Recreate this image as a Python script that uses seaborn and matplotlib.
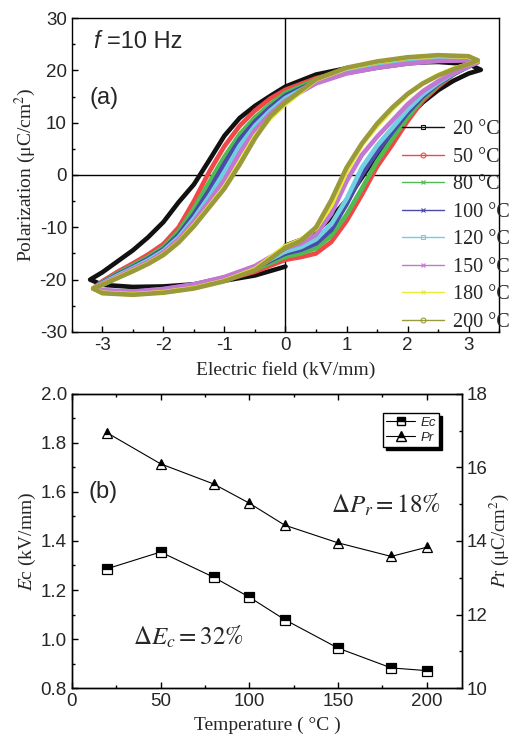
import matplotlib
matplotlib.use("Agg")
import matplotlib.pyplot as plt
from matplotlib.lines import Line2D
from matplotlib.ticker import MultipleLocator, FormatStrFormatter
import seaborn as sns
import pandas as pd

# ---- panel (a): P-E loops ----
temps_loop = [20, 50, 80, 100, 120, 150, 180, 200]
loop_colors = ["#111111", "#f04848", "#50bb50", "#4a4aa8",
               "#70d0e2", "#c278d0", "#eaea38", "#9a9a3a"]
loop_markers = ["s", "o", "x", "x", "s", "x", "x", "o"]
e_tip = [3.2, 3.15, 3.15, 3.15, 3.15, 3.15, 3.15, 3.15]

# descending branch (between the tips), ascending branch (0.0 twice: end / start)
e_dn_mid = [3.0, 2.5, 2.0, 1.5, 1.0, 0.5, 0.0, -0.25, -0.5, -0.75, -1.0,
            -1.25, -1.5, -1.75, -2.0, -2.25, -2.5, -2.75, -3.0]
e_up_mid = [-3.0, -2.5, -2.0, -1.5, -1.0, -0.5, 0.0, 0.0, 0.25, 0.5, 0.75,
            1.0, 1.25, 1.5, 1.75, 2.0, 2.25, 2.5, 2.75, 3.0]

p_dn_20 = [20.1, 21.2, 21.6, 21.5, 21.0, 20.4, 19.2, 16.9, 15.1, 13.2, 10.9, 7.5, 2.8, -1.8, -5.2, -9.0, -11.9, -14.4, -16.5, -18.6, -20.0]
p_dn_50 = [21.9, 22.5, 22.3, 21.7, 20.9, 19.9, 18.5, 16.3, 14.6, 12.3, 9.4, 5.5, 0.6, -5.0, -10.0, -13.2, -15.2, -16.9, -18.5, -20.3, -21.7]
p_dn_80 = [21.8, 22.3, 22.1, 21.6, 20.8, 19.8, 18.2, 15.7, 13.5, 11.0, 7.8, 3.5, -1.4, -6.4, -10.8, -13.8, -15.7, -17.3, -18.8, -20.5, -21.7]
p_dn_100 = [21.6, 22.0, 21.8, 21.3, 20.5, 19.5, 17.9, 15.2, 12.9, 10.2, 6.8, 2.2, -2.9, -7.5, -11.4, -14.2, -16.0, -17.6, -19.0, -20.6, -21.7]
p_dn_120 = [21.6, 22.1, 22.0, 21.5, 20.7, 19.6, 17.8, 14.7, 12.3, 9.4, 5.6, 0.6, -4.1, -8.3, -11.9, -14.5, -16.3, -17.8, -19.2, -20.7, -21.7]
p_dn_150 = [21.5, 21.9, 21.8, 21.3, 20.5, 19.4, 17.5, 14.2, 11.7, 8.6, 4.2, -0.9, -5.0, -8.9, -12.3, -14.8, -16.6, -18.0, -19.4, -20.8, -21.7]
p_dn_180 = [21.8, 22.6, 22.8, 22.4, 21.6, 20.4, 18.2, 13.6, 10.9, 7.4, 2.4, -2.3, -6.0, -9.6, -12.8, -15.2, -16.9, -18.3, -19.6, -21.0, -21.7]
p_dn_200 = [21.9, 22.7, 22.9, 22.5, 21.7, 20.5, 18.3, 13.9, 11.2, 7.0, 2.0, -2.6, -6.2, -9.8, -12.9, -15.3, -17.0, -18.4, -19.7, -21.0, -21.7]

p_up_20 = [-20.0, -21.0, -21.4, -21.3, -20.9, -20.2, -19.2, -17.5, -13.5, -12.4, -10.8, -8.2, -4.8, -0.5, 3.8, 7.6, 11.0, 13.9, 16.2, 18.0, 19.4, 20.1]
p_up_50 = [-21.7, -22.4, -22.6, -22.2, -21.4, -20.1, -18.5, -16.2, -16.2, -15.7, -15.0, -12.8, -8.8, -3.8, 1.6, 5.8, 10.3, 14.2, 16.9, 19.2, 20.9, 21.9]
p_up_80 = [-21.7, -22.3, -22.5, -22.0, -21.2, -19.9, -18.1, -15.6, -15.6, -15.0, -14.0, -11.6, -7.6, -2.6, 2.6, 6.9, 11.0, 14.6, 17.2, 19.3, 20.9, 21.8]
p_up_100 = [-21.7, -22.1, -22.3, -21.8, -20.9, -19.6, -17.8, -15.0, -15.0, -14.3, -13.1, -10.5, -5.6, 0.0, 4.4, 8.2, 11.9, 15.0, 17.4, 19.3, 20.7, 21.6]
p_up_120 = [-21.7, -22.2, -22.4, -21.9, -21.0, -19.7, -17.7, -14.6, -14.6, -13.8, -12.3, -9.4, -4.6, 1.4, 5.6, 9.0, 12.5, 15.4, 17.6, 19.4, 20.8, 21.6]
p_up_150 = [-21.7, -22.1, -22.3, -21.8, -20.9, -19.5, -17.4, -14.0, -14.0, -13.1, -11.4, -7.4, -1.2, 3.8, 7.3, 10.4, 13.5, 16.0, 17.9, 19.5, 20.8, 21.5]
p_up_180 = [-21.7, -22.5, -22.8, -22.4, -21.6, -20.2, -18.0, -13.6, -13.6, -12.4, -10.2, -5.8, 0.6, 5.8, 9.4, 12.6, 15.4, 17.5, 19.1, 20.3, 21.2, 21.8]
p_up_200 = [-21.7, -22.6, -22.9, -22.5, -21.7, -20.3, -18.2, -13.9, -13.9, -12.6, -10.0, -4.8, 1.4, 6.0, 9.8, 12.9, 15.5, 17.5, 19.0, 20.2, 21.2, 21.9]

p_dn_all = [p_dn_20, p_dn_50, p_dn_80, p_dn_100, p_dn_120, p_dn_150, p_dn_180, p_dn_200]
p_up_all = [p_up_20, p_up_50, p_up_80, p_up_100, p_up_120, p_up_150, p_up_180, p_up_200]

# ---- panel (b): coercive field and remanent polarization ----
temps_b = [20, 50, 80, 100, 120, 150, 180, 200]
ec_vals = [1.287, 1.355, 1.252, 1.171, 1.079, 0.963, 0.882, 0.871]
pr_vals = [16.94, 16.10, 15.55, 15.03, 14.43, 13.95, 13.58, 13.83]


def loop_frame(tip, p_dn, p_up):
    """Walk the loop starting at E=0 on the ascending branch."""
    e_dn = [tip] + e_dn_mid + [-tip]
    e_up = [-tip] + e_up_mid + [tip]
    k = 8
    return pd.DataFrame({"E": e_up[k:] + e_dn + e_up[:k],
                         "P": p_up[k:] + p_dn + p_up[:k]})


sns.set_theme(style="ticks")
plt.rcParams["font.family"] = ["Liberation Sans", "DejaVu Sans"]
plt.rcParams["mathtext.fontset"] = "stix"
plt.rcParams["axes.linewidth"] = 1.0
plt.rcParams["axes.unicode_minus"] = False
serif = ["Liberation Serif", "DejaVu Serif"]

fig = plt.figure(figsize=(5.13, 7.36), dpi=100)
ax_a = fig.add_axes([0.140, 0.549, 0.833, 0.4265])
ax_b = fig.add_axes([0.140, 0.0652, 0.761, 0.3995])

# ---------------- (a) ----------------
for i, t in enumerate(temps_loop):
    df = loop_frame(e_tip[i], p_dn_all[i], p_up_all[i])
    sns.lineplot(data=df, x="E", y="P", sort=False, estimator=None,
                 color=loop_colors[i], lw=3.3, ax=ax_a, legend=False,
                 solid_joinstyle="round", solid_capstyle="round")

ax_a.axhline(0, color="black", lw=1.0, zorder=0.5)
ax_a.axvline(0, color="black", lw=1.0, zorder=0.5)
ax_a.set_xlim(-3.5, 3.5)
ax_a.set_ylim(-30, 30)
ax_a.xaxis.set_major_locator(MultipleLocator(1))
ax_a.xaxis.set_minor_locator(MultipleLocator(0.5))
ax_a.yaxis.set_major_locator(MultipleLocator(10))
ax_a.yaxis.set_minor_locator(MultipleLocator(5))
ax_a.tick_params(which="both", direction="in", labelsize=13.5, color="black",
                 top=False, right=False)
ax_a.tick_params(which="major", length=4, width=1)
ax_a.tick_params(which="minor", length=2.5, width=1)
ax_a.set_xlabel("Electric field (kV/mm)", family=serif, fontsize=14, labelpad=5)
ax_a.set_ylabel("Polarization (μC/cm$^2$)", family=serif, fontsize=14, labelpad=1)
for s in ax_a.spines.values():
    s.set_color("black")

ax_a.text(-3.15, 25.5, "f", style="italic", fontsize=17, va="center", ha="left")
ax_a.text(-2.92, 25.5, "=10 Hz", fontsize=17, va="center", ha="left")
ax_a.text(-3.21, 14.8, "(a)", fontsize=17, va="center", ha="left")

handles_a = [Line2D([0], [0], color=c, lw=1.0, marker=m, ms=3.5, mfc="none", mew=0.8)
             for c, m in zip(loop_colors, loop_markers)]
labels_a = [f"{t} °C" for t in temps_loop]
ax_a.legend(handles_a, labels_a, loc="upper left", bbox_to_anchor=(0.773, 0.675),
            frameon=False, borderpad=0, borderaxespad=0, handlelength=2.1,
            handletextpad=0.45, labelspacing=0.42,
            prop={"family": serif, "size": 14.5})

# ---------------- (b) ----------------
ax_b2 = ax_b.twinx()
sns.lineplot(x=temps_b, y=ec_vals, ax=ax_b, color="black", lw=0.8,
             marker="s", ms=6.5, fillstyle="top", markerfacecolor="black",
             markerfacecoloralt="white", markeredgecolor="black", mew=0.9)
sns.lineplot(x=temps_b, y=pr_vals, ax=ax_b2, color="black", lw=0.8,
             marker="^", ms=7.5, fillstyle="top", markerfacecolor="black",
             markerfacecoloralt="white", markeredgecolor="black", mew=0.9)

ax_b.set_xlim(0, 220)
ax_b.set_ylim(0.8, 2.0)
ax_b2.set_ylim(10, 18)
ax_b.xaxis.set_major_locator(MultipleLocator(50))
ax_b.xaxis.set_minor_locator(MultipleLocator(25))
ax_b.yaxis.set_major_locator(MultipleLocator(0.2))
ax_b.yaxis.set_minor_locator(MultipleLocator(0.1))
ax_b2.yaxis.set_major_locator(MultipleLocator(2))
ax_b2.yaxis.set_minor_locator(MultipleLocator(1))
ax_b.yaxis.set_major_formatter(FormatStrFormatter("%.1f"))
ax_b.tick_params(which="both", direction="in", labelsize=13.5, color="black",
                 top=True, right=False)
ax_b2.tick_params(which="both", direction="in", labelsize=13.5, color="black")
for a in (ax_b, ax_b2):
    a.tick_params(which="major", length=4, width=1)
    a.tick_params(which="minor", length=2.5, width=1)
    for s in a.spines.values():
        s.set_color("black")

ax_b.set_xlabel("Temperature ( °C )", family=serif, fontsize=14, labelpad=5)
ax_b.set_ylabel("$E$c (kV/mm)", family=serif, fontsize=14, labelpad=2)
ax_b2.set_ylabel("$P$r (μC/cm$^2$)", family=serif, fontsize=13.5, labelpad=0)

ax_b.text(9.5, 1.60, "(b)", fontsize=17, va="center", ha="left")
ax_b.text(146, 1.547, r"$\Delta P_r = 18\%$", fontsize=18, va="center", ha="left")
ax_b.text(34.5, 1.008, r"$\Delta E_c = 32\%$", fontsize=18, va="center", ha="left")

handles_b = [
    Line2D([0], [0], color="black", lw=0.8, marker="s", ms=5.5, fillstyle="top",
           markerfacecolor="black", markerfacecoloralt="white", markeredgecolor="black"),
    Line2D([0], [0], color="black", lw=0.8, marker="^", ms=6.5, fillstyle="top",
           markerfacecolor="black", markerfacecoloralt="white", markeredgecolor="black"),
]
ax_b2.legend(handles_b, ["Ec", "Pr"], loc="upper right",
             bbox_to_anchor=(0.941, 0.935), borderaxespad=0, fancybox=False,
             shadow={"color": "black", "alpha": 1}, edgecolor="black",
             framealpha=1, handlelength=2.2, handletextpad=0.4,
             borderpad=0.25, labelspacing=0.2,
             prop={"style": "italic", "size": 9.5})

fig.savefig("out.png", dpi=100)
